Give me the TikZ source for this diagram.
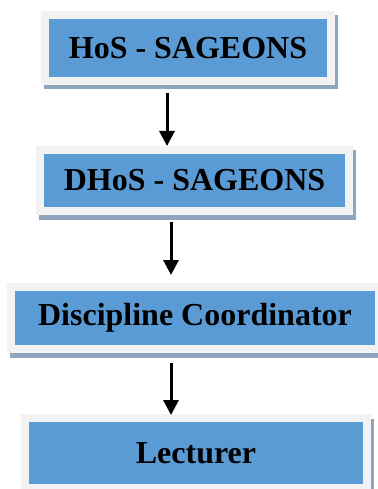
\documentclass[tikz,border=0pt]{standalone}
\usepackage{fontspec}
\setmainfont{Liberation Serif}
\usepackage{tikz}
\usetikzlibrary{positioning,arrows.meta}
\tikzset{every picture/.style={line width=0.75pt}}
\definecolor{boxblue}{RGB}{91,155,213}
\definecolor{framegray}{RGB}{242,242,242}
\definecolor{shadowgray}{RGB}{143,165,190}
\tikzset{
  rank/.style={fill=boxblue, draw=framegray, line width=8pt, inner sep=0pt,
    font=\bfseries\fontsize{32}{38}\selectfont,
    preaction={fill=shadowgray, draw=shadowgray, line width=8pt,
      transform canvas={xshift=2.5pt, yshift=-4.5pt}}},
  down/.style={line width=3pt, -{Triangle[length=15pt,width=15pt]}}
}

\begin{document}
\begin{tikzpicture}[x=1pt,y=-1pt]
\useasboundingbox (0,0) rectangle (377,489);
\node[rank, minimum width=286pt, minimum height=66pt] (hos) at (188,48) {HoS - SAGEONS};
\node[rank, minimum width=309pt, minimum height=61pt] (dhos) at (194.5,180.5) {DHoS - SAGEONS};
\node[rank, minimum width=368pt, minimum height=62pt] (disc) at (195,318) {Discipline Coordinator};
\node[rank, minimum width=342pt, minimum height=70pt] (lect) at (196,453) {Lecturer};
%
\draw[down] ([xshift=-21pt,yshift=-8pt]hos.south) -- ([xshift=-27.5pt]dhos.north);
\draw[down] ([xshift=-23.5pt,yshift=-7pt]dhos.south) -- ([xshift=-24pt,yshift=8pt]disc.north);
\draw[down] ([xshift=-24pt,yshift=-10pt]disc.south) -- ([xshift=-25pt,yshift=-1pt]lect.north);
\end{tikzpicture}
\end{document}
